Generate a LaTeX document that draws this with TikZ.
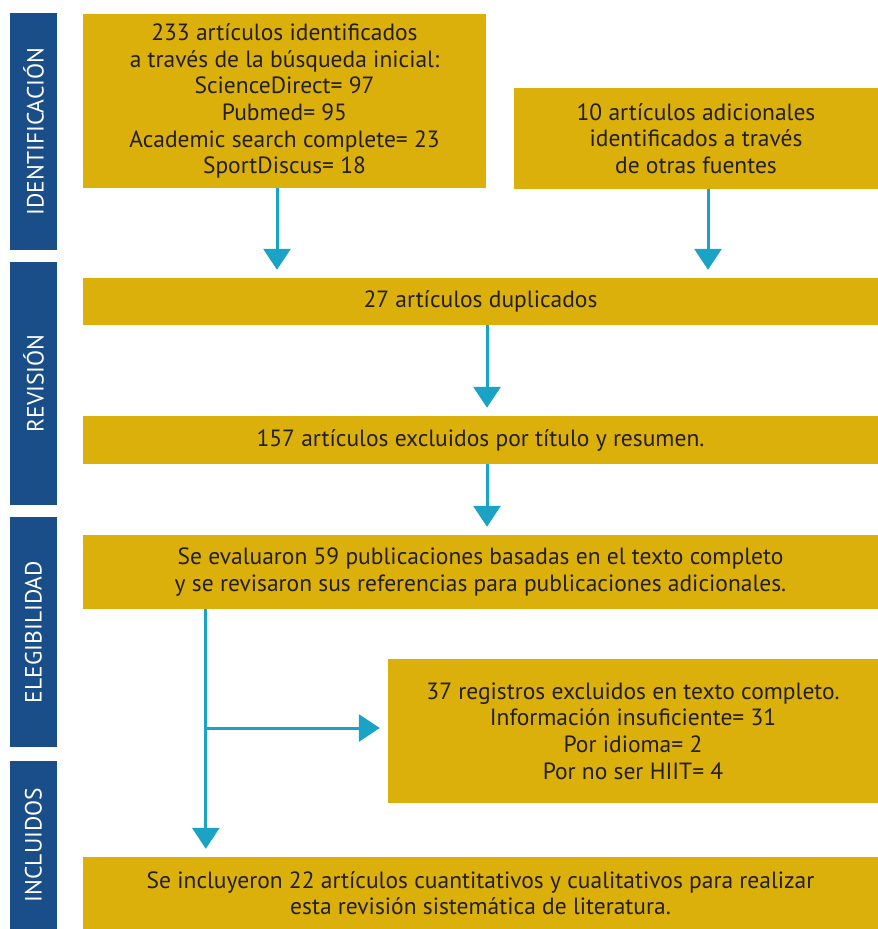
\documentclass[tikz,border=0pt]{standalone}
\usepackage{fontspec}
\setmainfont{PT Sans}
\usetikzlibrary{arrows.meta}
\definecolor{oro}{HTML}{DBB00A}
\definecolor{azul}{HTML}{1A4E89}
\definecolor{cian}{HTML}{1BA3C6}
\definecolor{texto}{HTML}{231F20}

\begin{document}
\begin{tikzpicture}[x=1pt, y=-1pt,
    block/.style={fill=oro, text=texto, align=center, inner sep=0pt, font=\fontsize{23.5}{26.6}\selectfont},
    fase/.style={fill=azul, text=white, inner sep=0pt, rotate=90, minimum height=47pt, font=\fontsize{23.5}{26}\selectfont},
    flecha/.style={cian, line width=3pt, -{Triangle[length=21pt, width=27pt]}, shorten >=8pt}]
    \useasboundingbox (0,0) rectangle (878,929);

    % fases
    \node[fase, minimum width=237pt] (ident) at (33.5,131.5) {IDENTIFICACIÓN};
    \node[fase, minimum width=243pt] (revis) at (33.5,383.5) {REVISIÓN};
    \node[fase, minimum width=230pt] (elegi) at (33.5,632) {ELEGIBILIDAD};
    \node[fase, minimum width=168pt] (inclu) at (33.5,845) {INCLUIDOS};

    % cajas
    \node[block, minimum width=403pt, minimum height=174pt] (busq) at (284.5,101) {233 artículos identificados\\a través de la búsqueda inicial:\\ScienceDirect= 97\\Pubmed= 95\\Academic search complete= 23\\SportDiscus= 18};
    \node[block, minimum width=364pt, minimum height=101pt] (otras) at (696,138.5) {10 artículos adicionales\\identificados a través\\de otras fuentes};
    \node[block, minimum width=795pt, minimum height=47pt] (dupl) at (480.5,301.5) {27 artículos duplicados};
    \node[block, minimum width=795pt, minimum height=48pt] (excl) at (480.5,440) {157 artículos excluidos por título y resumen.};
    \node[block, minimum width=795pt, minimum height=74pt] (eval) at (480.5,572) {Se evaluaron 59 publicaciones basadas en el texto completo\\y se revisaron sus referencias para publicaciones adicionales.};
    \node[block, minimum width=490pt, minimum height=144pt] (regs) at (633,731) {37 registros excluidos en texto completo.\\Información insuficiente= 31\\Por idioma= 2\\Por no ser HIIT= 4};
    \node[block, minimum width=795pt, minimum height=72pt] (incl) at (480.5,893) {Se incluyeron 22 artículos cuantitativos y cualitativos para realizar\\esta revisión sistemática de literatura.};

    % flechas
    \draw[flecha] ([xshift=-7.5pt]busq.south) -- ([xshift=-7.5pt]busq.south |- dupl.north);
    \draw[flecha] ([xshift=12pt]otras.south) -- ([xshift=12pt]otras.south |- dupl.north);
    \draw[flecha] ([xshift=6.5pt]dupl.south) -- ([xshift=6.5pt]dupl.south |- excl.north);
    \draw[flecha] ([xshift=6.5pt]excl.south) -- ([xshift=6.5pt]excl.south |- eval.north);
    \coordinate (rama) at (206,728);
    \draw[flecha] ([xshift=123pt]eval.south west) -- ([xshift=123pt]eval.south west |- incl.north);
    \draw[flecha] (rama) -- (rama -| regs.west);
\end{tikzpicture}
\end{document}
